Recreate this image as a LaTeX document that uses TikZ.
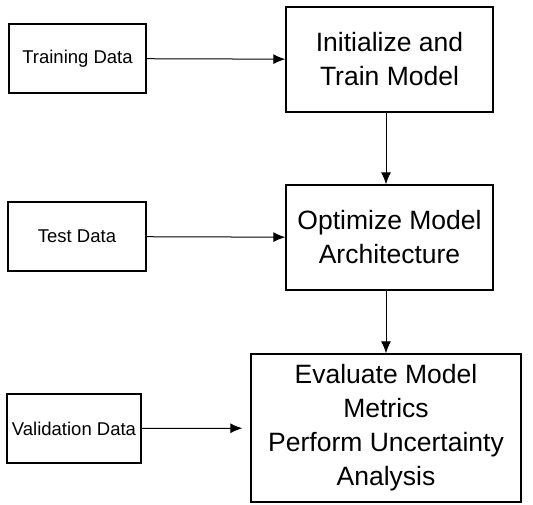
\documentclass[tikz,border=0pt]{standalone}
\usepackage{fontspec}
\setmainfont{Liberation Sans}
\usetikzlibrary{positioning,arrows.meta}

\begin{document}
\begin{tikzpicture}[
  x=1pt, y=-1pt,
  databox/.style={draw, line width=1.4pt, rectangle, inner sep=0pt, minimum height=69pt,
    font=\fontsize{18.5}{22}\selectfont},
  stagebox/.style={draw, line width=1.4pt, rectangle, inner sep=0pt, align=center,
    font=\fontsize{26.5}{34}\selectfont},
  flow/.style={line width=1pt, -{Latex[length=12pt,width=10pt]}}
]
\useasboundingbox (0,0) rectangle (533,504);

\node[databox, minimum width=137pt] (train) at (77.5,58.5) {Training Data};
\node[databox, minimum width=138pt] (test) at (77,236.5) {Test Data};
\node[databox, minimum width=134pt] (valid) at (74,428.5) {Validation Data};

\node[stagebox, minimum width=207pt, minimum height=105pt] (init) at (389.5,59.5) {Initialize and\\Train Model};
\node[stagebox, minimum width=207pt, minimum height=105pt] (optim) at (389.5,237.5) {Optimize Model\\Architecture};
\node[stagebox, minimum width=270pt, minimum height=148pt] (eval) at (386,428) {Evaluate Model\\Metrics\\Perform Uncertainty\\Analysis};

\draw[flow] (train) -- (init);
\draw[flow] (test) -- (optim);
\draw[flow, shorten >=8pt] (valid) -- (eval);

\draw[flow] (init.south -| eval) -- (optim.north -| eval);
\draw[flow] (optim.south -| eval) -- (eval.north);

\end{tikzpicture}
\end{document}
